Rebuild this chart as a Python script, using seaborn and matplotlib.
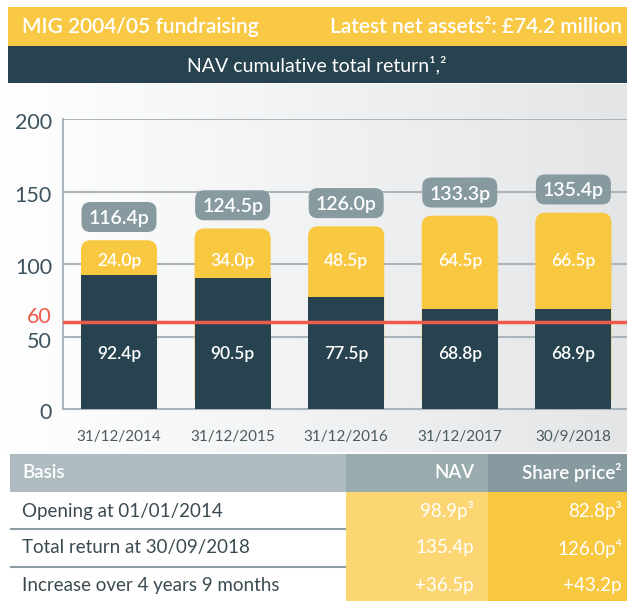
import numpy as np
import pandas as pd
import matplotlib
matplotlib.use("Agg")
import matplotlib.pyplot as plt
import seaborn as sns
from matplotlib.patches import FancyBboxPatch, Rectangle
from matplotlib.colors import LinearSegmentedColormap
from matplotlib.transforms import ScaledTranslation

# ---------------- data ----------------
dates = ["31/12/2014", "31/12/2015", "31/12/2016", "31/12/2017", "30/9/2018"]
nav_values = [92.4, 90.5, 77.5, 68.8, 68.9]
dividends = [24.0, 34.0, 48.5, 64.5, 66.5]
totals = [116.4, 124.5, 126.0, 133.3, 135.4]
hurdle = 60
y_ticks = [0, 50, 100, 150, 200]

table_headers = ["Basis", "NAV", "Share price²"]
table_rows = ["Opening at 01/01/2014", "Total return at 30/09/2018",
              "Increase over 4 years 9 months"]
table_nav = ["98.9p³", "135.4p", "+36.5p"]
table_share = ["82.8p³", "126.0p⁴", "+43.2p"]

header_left = "MIG 2004/05 fundraising"
header_right = "Latest net assets²: £74.2 million"
title = "NAV cumulative total return¹,²"

# ---------------- style ----------------
YEL = "#f8c841"
YEL_LIGHT = "#fbd673"
DARK = "#27434f"
GRID = "#a9b5ba"
RED = "#ef5a4a"
BOX = "#869aa0"
TICK = "#3c5360"

sns.set_style("white")
plt.rcParams["font.family"] = ["Lato", "DejaVu Sans"]

W, H = 627, 601
fig = plt.figure(figsize=(W / 100, H / 100), dpi=100)

# background gradient
bg = fig.add_axes([0, 0, 1, 1], zorder=0)
cmap = LinearSegmentedColormap.from_list("g", ["#ffffff", "#e3e5e7"])
bg.imshow(np.linspace(0, 1, 256)[None, :], cmap=cmap, extent=[0, W, 452, 84],
          aspect="auto")
bg.set_xlim(0, W)
bg.set_ylim(H, 0)
bg.axis("off")

# main chart axes
ax = fig.add_axes([63 / W, 1 - 409 / H, (W - 63) / W, 290 / H], zorder=1)
ax.patch.set_alpha(0)

df = pd.DataFrame({"date": dates, "total": totals, "nav": nav_values,
                   "div": dividends})
sns.barplot(data=df, x="date", y="total", color=YEL, width=0.67, ax=ax,
            saturation=1, linewidth=0)
sns.barplot(data=df, x="date", y="nav", color=DARK, width=0.67, ax=ax,
            saturation=1, linewidth=0)

x_lo, x_hi = -0.493, 4.472
ax.set_xlim(x_lo, x_hi)
ax.set_ylim(0, 200)

px_x = (W - 63) / (x_hi - x_lo)   # pixels per x unit
px_y = 290 / 200                  # pixels per y unit
r = 10 / px_x
asp = (10 / px_y) / r

for bar in ax.containers[0]:
    x0, w, h = bar.get_x(), bar.get_width(), bar.get_height()
    bar.set_visible(False)
    ax.add_patch(FancyBboxPatch((x0, 0), w, h,
                                boxstyle=f"round,pad=0,rounding_size={r}",
                                mutation_aspect=asp, fc=YEL, ec="none",
                                lw=0, zorder=2))
for bar in ax.containers[1]:
    bar.set_zorder(3)

for v in y_ticks[1:]:
    ax.axhline(v, color=GRID, lw=1.5, zorder=0.5)
ax.axhline(hurdle, color=RED, lw=2.5, zorder=4)

bw = 0.66
bh = 30 / px_y
for i, (t, d, n) in enumerate(zip(totals, dividends, nav_values)):
    cy = t + 16
    ax.add_patch(FancyBboxPatch((i - bw / 2, cy - bh / 2), bw, bh,
                                boxstyle=f"round,pad=0,rounding_size={9 / px_x}",
                                mutation_aspect=asp, fc=BOX, ec="none",
                                zorder=5))
    ax.text(i, cy, f"{t:.1f}p", ha="center", va="center_baseline",
            color="white", fontsize=14, fontweight="semibold", zorder=6)
    ax.text(i, 103, f"{d:.1f}p", ha="center", va="center_baseline",
            color="white", fontsize=12.5, fontweight="semibold", zorder=6)
    ax.text(i, 39, f"{n:.1f}p", ha="center", va="center_baseline",
            color="white", fontsize=12.5, fontweight="semibold", zorder=6)

# y tick labels (placed at the tick values, with small pixel offsets)
ticks = sorted(y_ticks + [hurdle])
ax.set_yticks(ticks)
ax.set_yticklabels([])
ytrans = ax.get_yaxis_transform()
for v in ticks:
    if v == hurdle:
        col, dy = RED, 5
    else:
        col, dy = TICK, (-6 if v == 50 else -4)
    ax.text(0, v, str(v), ha="right", va="center", fontsize=15.5, color=col,
            transform=ytrans + ScaledTranslation(-11 / 100, dy / 100,
                                                 fig.dpi_scale_trans),
            clip_on=False)
ax.tick_params(axis="y", length=0, pad=10)
ax.tick_params(axis="x", length=0, pad=15, labelsize=11, labelcolor="#4a5a61")
ax.set_xlabel("")
ax.set_ylabel("")
for s in ["top", "right"]:
    ax.spines[s].set_visible(False)
for s in ["left", "bottom"]:
    ax.spines[s].set_color(GRID)
    ax.spines[s].set_linewidth(1.5)

# overlay for header and table (pixel coordinates)
ov = fig.add_axes([0, 0, 1, 1], zorder=3)
ov.patch.set_alpha(0)
ov.set_xlim(0, W)
ov.set_ylim(H, 0)
ov.axis("off")

ov.add_patch(Rectangle((8, 7), W - 8, 39, fc="#f9c945", ec="none"))
ov.add_patch(Rectangle((8, 46), W - 8, 37, fc=DARK, ec="none"))
ov.text(22, 27, header_left, color="white", fontsize=15, fontweight="semibold",
        ha="left", va="center")
ov.text(622, 27, header_right, color="white", fontsize=15,
        fontweight="semibold", ha="right", va="center")
ov.text(317, 65, title, color="white", fontsize=14, ha="center", va="center")

# table
col_edges = [10, 346, 488, W]
head_cols = ["#aebbc0", "#9aabb0", "#869aa0"]
for k in range(3):
    ov.add_patch(Rectangle((col_edges[k], 454), col_edges[k + 1] - col_edges[k],
                           38, fc=head_cols[k], ec="none"))
ov.add_patch(Rectangle((346, 492), 142, H - 492, fc=YEL_LIGHT, ec="none"))
ov.add_patch(Rectangle((488, 492), W - 488, H - 492, fc=YEL, ec="none"))
ov.text(22, 473, table_headers[0], color="white", fontsize=13.5,
        fontweight="semibold", ha="left", va="center")
ov.text(474, 473, table_headers[1], color="white", fontsize=13.5,
        fontweight="semibold", ha="right", va="center")
ov.text(622, 473, table_headers[2], color="white", fontsize=13.5,
        fontweight="semibold", ha="right", va="center")

row_mid = [511, 548, 586]
for k, (lab, nv, sp) in enumerate(zip(table_rows, table_nav, table_share)):
    ov.text(22, row_mid[k], lab, color="#3b4a51", fontsize=13.5,
            ha="left", va="center")
    ov.text(474, row_mid[k], nv, color="white", fontsize=13.5, ha="right",
            va="center")
    ov.text(622, row_mid[k], sp, color="white", fontsize=13.5, ha="right",
            va="center")
for yline in [529, 567]:
    ov.plot([10, 346], [yline, yline], color="#8c9ba1", lw=1.5,
            solid_capstyle="butt")

fig.savefig("out.png", dpi=100)
